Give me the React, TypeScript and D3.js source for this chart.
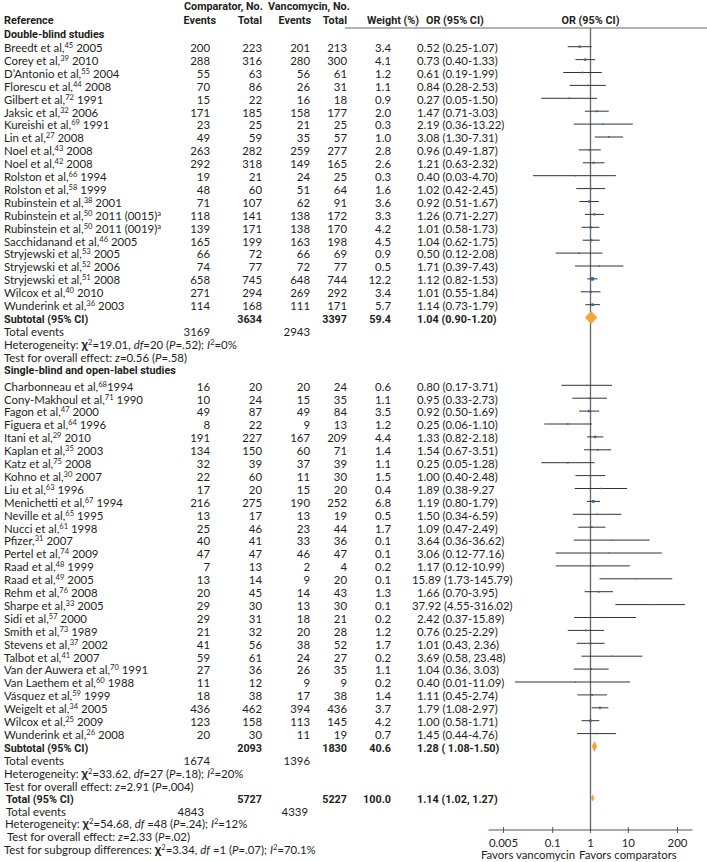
import React from 'react';
import * as d3 from 'd3';

// ---------------- data ----------------
const groupNames = ['Double-blind studies', 'Single-blind and open-label studies'];

const dbStudies = [
  'Breedt et al,^45^ 2005', 'Corey et al,^39^ 2010', 'D’Antonio et al,^55^ 2004', 'Florescu et al,^44^ 2008',
  'Gilbert et al,^72^ 1991', 'Jaksic et al,^32^ 2006', 'Kureishi et al,^69^ 1991', 'Lin et al,^27^ 2008',
  'Noel et al,^43^ 2008', 'Noel et al,^42^ 2008', 'Rolston et al,^66^ 1994', 'Rolston et al,^58^ 1999',
  'Rubinstein et al,^38^ 2001', 'Rubinstein et al,^50^ 2011 (0015)^a^', 'Rubinstein et al,^50^ 2011 (0019)^a^',
  'Sacchidanand et al,^46^ 2005', 'Stryjewski et al,^53^ 2005', 'Stryjewski et al,^52^ 2006',
  'Stryjewski et al,^51^ 2008', 'Wilcox et al,^40^ 2010', 'Wunderink et al,^36^ 2003',
];
const dbCompEvents = [200, 288, 55, 70, 15, 171, 23, 49, 263, 292, 19, 48, 71, 118, 139, 165, 66, 74, 658, 271, 114];
const dbCompTotal = [223, 316, 63, 86, 22, 185, 25, 59, 282, 318, 21, 60, 107, 141, 171, 199, 72, 77, 745, 294, 168];
const dbVancEvents = [201, 280, 56, 26, 16, 158, 21, 35, 259, 149, 24, 51, 62, 138, 138, 163, 66, 72, 648, 269, 111];
const dbVancTotal = [213, 300, 61, 31, 18, 177, 25, 57, 277, 165, 25, 64, 91, 172, 170, 198, 69, 77, 744, 292, 171];
const dbWeight = ['3.4', '4.1', '1.2', '1.1', '0.9', '2.0', '0.3', '1.0', '2.8', '2.6', '0.3', '1.6', '3.6', '3.3', '4.2', '4.5', '0.9', '0.5', '12.2', '3.4', '5.7'];
const dbOR = [
  '0.52 (0.25-1.07)', '0.73 (0.40-1.33)', '0.61 (0.19-1.99)', '0.84 (0.28-2.53)', '0.27 (0.05-1.50)',
  '1.47 (0.71-3.03)', '2.19 (0.36-13.22)', '3.08 (1.30-7.31)', '0.96 (0.49-1.87)', '1.21 (0.63-2.32)',
  '0.40 (0.03-4.70)', '1.02 (0.42-2.45)', '0.92 (0.51-1.67)', '1.26 (0.71-2.27)', '1.01 (0.58-1.73)',
  '1.04 (0.62-1.75)', '0.50 (0.12-2.08)', '1.71 (0.39-7.43)', '1.12 (0.82-1.53)', '1.01 (0.55-1.84)',
  '1.14 (0.73-1.79)',
];

const sbStudies = [
  'Charbonneau et al,^68^1994', 'Cony-Makhoul et al,^71^ 1990', 'Fagon et al,^47^ 2000', 'Figuera et al,^64^ 1996',
  'Itani et al,^29^ 2010', 'Kaplan et al,^35^ 2003', 'Katz et al,^75^ 2008', 'Kohno et al,^30^ 2007',
  'Liu et al,^63^ 1996', 'Menichetti et al,^67^ 1994', 'Neville et al,^65^ 1995', 'Nucci et al,^61^ 1998',
  'Pfizer,^31^ 2007', 'Pertel et al,^74^ 2009', 'Raad et al,^48^ 1999', 'Raad et al,^49^ 2005',
  'Rehm et al,^76^ 2008', 'Sharpe et al,^33^ 2005', 'Sidi et al,^57^ 2000', 'Smith et al,^73^ 1989',
  'Stevens et al,^37^ 2002', 'Talbot et al,^41^ 2007', 'Van der Auwera et al,^70^ 1991', 'Van Laethem et al,^60^ 1988',
  'Vásquez et al,^59^ 1999', 'Weigelt et al,^34^ 2005', 'Wilcox et al,^25^ 2009', 'Wunderink et al,^26^ 2008',
];
const sbCompEvents = [16, 10, 49, 8, 191, 134, 32, 22, 17, 216, 13, 25, 40, 47, 7, 13, 20, 29, 29, 21, 41, 59, 27, 11, 18, 436, 123, 20];
const sbCompTotal = [20, 24, 87, 22, 227, 150, 39, 60, 20, 275, 17, 46, 41, 47, 13, 14, 45, 30, 31, 32, 56, 61, 36, 12, 38, 462, 158, 30];
const sbVancEvents = [20, 15, 49, 9, 167, 60, 37, 11, 15, 190, 13, 23, 33, 46, 2, 9, 14, 13, 18, 20, 38, 24, 26, 9, 17, 394, 113, 11];
const sbVancTotal = [24, 35, 84, 13, 209, 71, 39, 30, 20, 252, 19, 44, 36, 47, 4, 20, 43, 30, 21, 28, 52, 27, 35, 9, 38, 436, 145, 19];
const sbWeight = ['0.6', '1.1', '3.5', '1.2', '4.4', '1.4', '1.1', '1.5', '0.4', '6.8', '0.5', '1.7', '0.1', '0.1', '0.2', '0.1', '1.3', '0.1', '0.2', '1.2', '1.7', '0.2', '1.1', '0.2', '1.4', '3.7', '4.2', '0.7'];
const sbOR = [
  '0.80 (0.17-3.71)', '0.95 (0.33-2.73)', '0.92 (0.50-1.69)', '0.25 (0.06-1.10)', '1.33 (0.82-2.18)',
  '1.54 (0.67-3.51)', '0.25 (0.05-1.28)', '1.00 (0.40-2.48)', '1.89 (0.38-9.27', '1.19 (0.80-1.79)',
  '1.50 (0.34-6.59)', '1.09 (0.47-2.49)', '3.64 (0.36-36.62)', '3.06 (0.12-77.16)', '1.17 (0.12-10.99)',
  '15.89 (1.73-145.79)', '1.66 (0.70-3.95)', '37.92 (4.55-316.02)', '2.42 (0.37-15.89)', '0.76 (0.25-2.29)',
  '1.01 (0.43, 2.36)', '3.69 (0.58, 23.48)', '1.04 (0.36, 3.03)', '0.40 (0.01-11.09)', '1.11 (0.45-2.74)',
  '1.79 (1.08-2.97)', '1.00 (0.58-1.71)', '1.45 (0.44-4.76)',
];

// subtotals per group
const subCompTotal = [3634, 2093];
const subVancTotal = [3397, 1830];
const subWeight = ['59.4', '40.6'];
const subOR = ['1.04 (0.90-1.20)', '1.28 ( 1.08-1.50)'];
const subCompEvents = [3169, 1674];
const subVancEvents = [2943, 1396];
const hetChi2 = ['19.01', '33.62'];
const hetDf = ['20', '27'];
const hetP = ['.52', '.18'];
const hetI2 = ['0%', '20%'];
const effZ = ['0.56', '2.91'];
const effP = ['.58', '.004'];

// overall
const totalCompTotal = 5727;
const totalVancTotal = 5227;
const totalWeight = '100.0';
const totalOR = '1.14 (1.02, 1.27)';
const totalCompEvents = 4843;
const totalVancEvents = 4339;
const totalHet = { chi2: '54.68', df: '48', p: '.24', i2: '12%' };
const totalEff = { z: '2.33', p: '.02' };
const subgroupTest = { chi2: '3.34', df: '1', p: '.07', i2: '70.1%' };

const axisTicks = [0.005, 0.1, 1, 10, 200];
const axisTickLabels = ['0.005', '0.1', '1', '10', '200'];

// ---------------- styles ----------------
const REG = "Lato, 'Open Sans', sans-serif";
const BOLD = "Roboto, 'DejaVu Sans', sans-serif";
const FS = 11.4;
const BFS = 10.8;
const INK = '#231f20';
const X = { ref: 4, ce: 210, ct: 262, ve: 310, vt: 347, w: 391, or: 417 };
const STEP = 12.9;

const parseOR = (s: string) => (s.match(/\d+(\.\d+)?/g) || []).map(Number);

function Rich({ x, y, s, anchor = 'start', size = FS }: { x: number; y: number; s: string; anchor?: string; size?: number }) {
  const parts = s.split('^');
  let shift = 0;
  return (
    <text x={x} y={y} textAnchor={anchor as any} fontFamily={REG} fontSize={size} fill={INK}>
      {parts.map((p, i) => {
        if (i % 2 === 1) {
          const dy = -4 - shift;
          shift = -4;
          return <tspan key={i} dy={dy} fontSize={7.6}>{p}</tspan>;
        }
        const dy = -shift;
        shift = 0;
        return <tspan key={i} dy={dy}>{p}</tspan>;
      })}
    </text>
  );
}

type Seg = [string, string];
function Stat({ x, y, segs }: { x: number; y: number; segs: Seg[] }) {
  let shift = 0;
  return (
    <text x={x} y={y} fontFamily={REG} fontSize={FS} fill={INK}>
      {segs.map(([t, k], i) => {
        if (k === 'sup') {
          const dy = -4 - shift;
          shift = -4;
          return <tspan key={i} dy={dy} fontSize={7.6}>{t}</tspan>;
        }
        const dy = -shift;
        shift = 0;
        if (k === 'i') return <tspan key={i} dy={dy} fontStyle="italic">{t}</tspan>;
        if (k === 'chi') return <tspan key={i} dy={dy} fontSize={13} fontWeight="bold">{t}</tspan>;
        return <tspan key={i} dy={dy}>{t}</tspan>;
      })}
    </text>
  );
}

const hetSegs = (chi: string, df: string, p: string, i2: string, dfSep: string, label = 'Heterogeneity: '): Seg[] => [
  [label, ''], ['χ', 'chi'], ['2', 'sup'], ['=' + chi + ', ', ''], ['df', 'i'], [dfSep + df + ' (', ''],
  ['P', 'i'], ['=' + p + '); ', ''], ['I', 'i'], ['2', 'sup'], ['=' + i2, ''],
];
const effSegs = (z: string, p: string): Seg[] => [
  ['Test for overall effect: ', ''], ['z', 'i'], ['=' + z + ' (', ''], ['P', 'i'], ['=' + p + ')', ''],
];

export default function App() {
  const xs = d3.scaleLog().domain([0.002, 500]).range([488.5, 692.5]);
  const groups = [
    { studies: dbStudies, ce: dbCompEvents, ct: dbCompTotal, ve: dbVancEvents, vt: dbVancTotal, w: dbWeight, or: dbOR },
    { studies: sbStudies, ce: sbCompEvents, ct: sbCompTotal, ve: sbVancEvents, vt: sbVancTotal, w: sbWeight, or: sbOR },
  ];

  type Line = { y: number; kind: string; g: number; i: number };
  const lines: Line[] = [];
  let y = 33.8;
  groups.forEach((G, g) => {
    if (g > 0) y += STEP;
    lines.push({ y: y - 1, kind: 'heading', g, i: 0 });
    G.studies.forEach((_, i) => {
      y += STEP + (g > 0 && i === 0 ? 3.2 : 0);
      lines.push({ y, kind: 'study', g, i });
    });
    ['subtotal', 'events', 'het', 'effect'].forEach((k) => {
      y += STEP;
      lines.push({ y, kind: k, g, i: 0 });
    });
  });
  y += STEP; lines.push({ y, kind: 'total', g: -1, i: 0 });
  y += 12.9; lines.push({ y, kind: 'tevents', g: -1, i: 0 });
  y += 11.8; lines.push({ y, kind: 'thet', g: -1, i: 0 });
  y += 12.9; lines.push({ y, kind: 'teffect', g: -1, i: 0 });
  y += 13; lines.push({ y, kind: 'subgroup', g: -1, i: 0 });

  const axisY = 830;
  const x1 = xs(1);
  const diamondMinHalf = [6.2, 0, 0];
  const diamondHalfH = [6.5, 5.5, 3.5];

  const num = (x: number, y: number, v: any, bold = false, anchor = 'end') => (
    <text x={x} y={y} textAnchor={anchor as any} fontFamily={bold ? BOLD : REG} fontWeight={bold ? 700 : 400}
      fontSize={bold ? BFS : FS} fill={INK}>{v}</text>
  );

  const diamond = (y: number, s: string, idx: number) => {
    const [o, lo, hi] = parseOR(s);
    const cx = xs(o);
    const l = Math.min(xs(lo), cx - diamondMinHalf[idx]);
    const r = Math.max(xs(hi), cx + diamondMinHalf[idx]);
    const h = diamondHalfH[idx];
    return <path d={`M${l},${y}L${cx},${y - h}L${r},${y}L${cx},${y + h}Z`} fill="#f4a53a" />;
  };

  const elems: React.ReactNode[] = [];
  lines.forEach((L, k) => {
    const by = L.y + 5.3;
    if (L.kind === 'heading') {
      elems.push(<text key={k} x={X.ref} y={by} fontFamily={BOLD} fontWeight={700} fontSize={BFS} fill={INK}>{groupNames[L.g]}</text>);
    } else if (L.kind === 'study') {
      const G = groups[L.g];
      const [o, lo, hi] = parseOR(G.or[L.i]);
      const sz = 1 + Math.sqrt(parseFloat(G.w[L.i])) * 0.7;
      elems.push(
        <g key={k}>
          <Rich x={X.ref} y={by} s={G.studies[L.i]} />
          {num(X.ce, by, G.ce[L.i])}
          {num(X.ct, by, G.ct[L.i])}
          {num(X.ve, by, G.ve[L.i])}
          {num(X.vt, by, G.vt[L.i])}
          {num(X.w, by, G.w[L.i])}
          {num(X.or - (o >= 10 ? 5 : 0), by, G.or[L.i], false, 'start')}
          <line x1={xs(lo)} x2={xs(hi)} y1={L.y} y2={L.y} stroke="#333" strokeWidth={1} />
          <rect x={xs(o) - sz / 2} y={L.y - sz / 2} width={sz} height={sz} fill="#2a6db5" />
        </g>
      );
    } else if (L.kind === 'subtotal') {
      elems.push(
        <g key={k}>
          <text x={X.ref} y={by} fontFamily={BOLD} fontWeight={700} fontSize={BFS} fill={INK}>Subtotal (95% CI)</text>
          {num(X.ct, by, subCompTotal[L.g], true)}
          {num(X.vt, by, subVancTotal[L.g], true)}
          {num(X.w, by, subWeight[L.g], true)}
          {num(X.or, by, subOR[L.g], true, 'start')}
          {diamond(L.y, subOR[L.g], L.g)}
        </g>
      );
    } else if (L.kind === 'events') {
      elems.push(
        <g key={k}>
          <text x={X.ref} y={by} fontFamily={REG} fontSize={FS} fill={INK}>Total events</text>
          {num(X.ce, by, subCompEvents[L.g])}
          {num(X.ve, by, subVancEvents[L.g])}
        </g>
      );
    } else if (L.kind === 'het') {
      elems.push(<Stat key={k} x={X.ref} y={by} segs={hetSegs(hetChi2[L.g], hetDf[L.g], hetP[L.g], hetI2[L.g], '=')} />);
    } else if (L.kind === 'effect') {
      elems.push(<Stat key={k} x={X.ref} y={by} segs={effSegs(effZ[L.g], effP[L.g])} />);
    } else if (L.kind === 'total') {
      elems.push(
        <g key={k}>
          <text x={6} y={by} fontFamily={BOLD} fontWeight={700} fontSize={BFS} fill={INK}>Total (95% CI)</text>
          {num(X.ct, by, totalCompTotal, true)}
          {num(X.vt, by, totalVancTotal, true)}
          {num(X.w, by, totalWeight, true)}
          {num(X.or, by, totalOR, true, 'start')}
          {diamond(L.y, totalOR, 2)}
        </g>
      );
    } else if (L.kind === 'tevents') {
      elems.push(
        <g key={k}>
          <text x={6} y={by} fontFamily={REG} fontSize={FS} fill={INK}>Total events</text>
          {num(X.ce - 6, by, totalCompEvents)}
          {num(X.ve - 2, by, totalVancEvents)}
        </g>
      );
    } else if (L.kind === 'thet') {
      elems.push(<Stat key={k} x={5} y={by} segs={hetSegs(totalHet.chi2, totalHet.df, totalHet.p, totalHet.i2, ' =')} />);
    } else if (L.kind === 'teffect') {
      elems.push(<Stat key={k} x={7} y={by} segs={effSegs(totalEff.z, totalEff.p)} />);
    } else if (L.kind === 'subgroup') {
      elems.push(<Stat key={k} x={4} y={by} segs={hetSegs(subgroupTest.chi2, subgroupTest.df, subgroupTest.p, subgroupTest.i2, ' =', 'Test for subgroup differences: ')} />);
    }
  });

  const hdr = (x: number, y: number, t: string, anchor = 'start') => (
    <text x={x} y={y} textAnchor={anchor as any} fontFamily={BOLD} fontWeight={700} fontSize={BFS} fill={INK}>{t}</text>
  );

  return (
    <svg width={707} height={862} style={{ position: 'absolute', left: 0, top: 0, background: '#fff' }}>
      <rect width={707} height={862} fill="#fff" />
      {hdr(184, 10, 'Comparator, No.')}
      {hdr(268, 10, 'Vancomycin, No.')}
      {hdr(4, 23.5, 'Reference')}
      {hdr(216, 23.5, 'Events', 'end')}
      {hdr(262, 23.5, 'Total', 'end')}
      {hdr(311, 23.5, 'Events', 'end')}
      {hdr(347, 23.5, 'Total', 'end')}
      {hdr(367, 23.5, 'Weight (%)')}
      {hdr(426, 23.5, 'OR (95% CI)')}
      {hdr(x1, 23.5, 'OR (95% CI)', 'middle')}
      <line x1={345} x2={707} y1={28} y2={28} stroke="#666" strokeWidth={1} />
      <line x1={x1} x2={x1} y1={28} y2={axisY} stroke="#666" strokeWidth={1.3} />
      {elems}
      <line x1={xs.range()[0]} x2={xs.range()[1]} y1={axisY} y2={axisY} stroke="#555" strokeWidth={1} />
      {axisTicks.map((t, i) => (
        <g key={i}>
          <line x1={xs(t)} x2={xs(t)} y1={axisY - 3} y2={axisY + 3} stroke="#555" strokeWidth={1} />
          <text x={xs(t)} y={847} textAnchor="middle" fontFamily={REG} fontSize={FS} fill={INK}>{axisTickLabels[i]}</text>
        </g>
      ))}
      <text x={575} y={858.5} textAnchor="end" fontFamily={REG} fontSize={FS} fill={INK}>Favors vancomycin</text>
      <text x={579} y={858.5} fontFamily={REG} fontSize={FS} fill={INK}>Favors comparators</text>
    </svg>
  );
}
